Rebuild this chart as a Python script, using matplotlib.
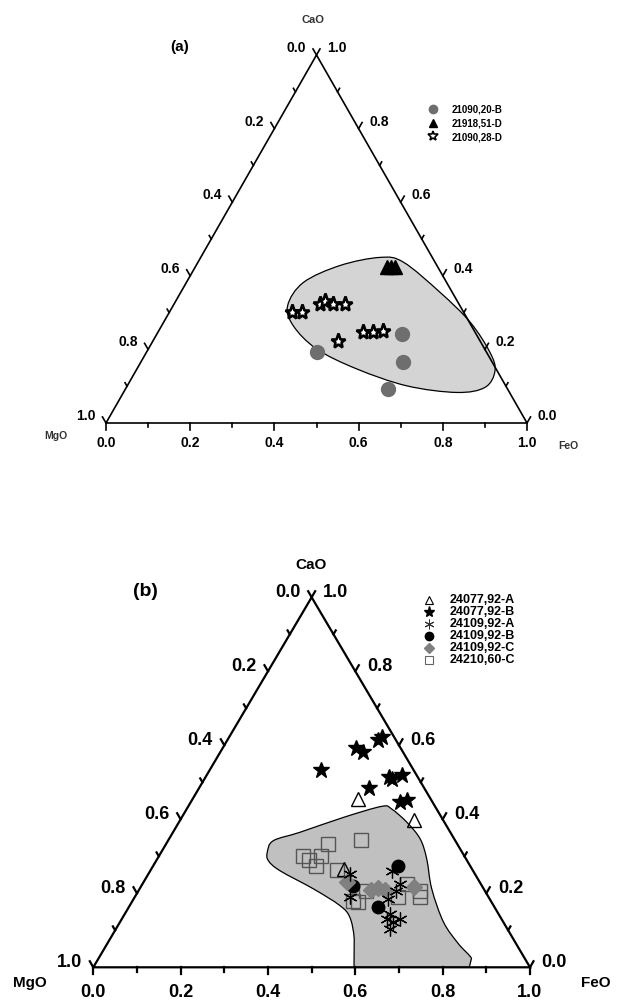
import numpy as np
import matplotlib
matplotlib.use('Agg')
import matplotlib.pyplot as plt
from matplotlib.path import Path
from matplotlib.patches import PathPatch, Polygon

plt.rcParams['font.family'] = ['Liberation Sans', 'DejaVu Sans']

# ---- panel (a) data: FeO / CaO fractions (MgO = 1 - FeO - CaO)
a_circ_feo = [0.404, 0.581, 0.624, 0.625]
a_circ_cao = [0.192, 0.242, 0.165, 0.092]
a_tri_feo = [0.455, 0.465, 0.474]
a_tri_cao = [0.424, 0.424, 0.424]
a_star_feo = [0.291, 0.314, 0.347, 0.354, 0.378, 0.406, 0.440, 0.488, 0.512, 0.533]
a_star_cao = [0.301, 0.301, 0.323, 0.332, 0.323, 0.323, 0.224, 0.246, 0.246, 0.251]
a_field_feo = [0.272, 0.278, 0.342, 0.426, 0.488, 0.616, 0.728, 0.816, 0.853,
               0.852, 0.792, 0.664, 0.522, 0.400, 0.313]
a_field_cao = [0.319, 0.382, 0.428, 0.450, 0.437, 0.355, 0.274, 0.192, 0.142,
               0.097, 0.083, 0.101, 0.147, 0.201, 0.264]
a_labels = ['21090,20-B', '21918,51-D', '21090,28-D']

# ---- panel (b) data
b_star_feo = [0.349, 0.346, 0.306, 0.325, 0.255, 0.419, 0.446, 0.429, 0.389, 0.479, 0.492]
b_star_cao = [0.622, 0.613, 0.592, 0.583, 0.532, 0.514, 0.521, 0.509, 0.485, 0.446, 0.452]
b_tri_feo = [0.378, 0.536, 0.440]
b_tri_cao = [0.455, 0.399, 0.266]
b_circ_feo = [0.562, 0.485, 0.572]
b_circ_cao = [0.273, 0.221, 0.162]
b_dia_feo = [0.465, 0.532, 0.546, 0.563, 0.626]
b_dia_cao = [0.230, 0.210, 0.214, 0.210, 0.216]
b_ast_feo = [0.553, 0.462, 0.493, 0.589, 0.590, 0.583, 0.607, 0.606, 0.637, 0.627, 0.626]
b_ast_cao = [0.261, 0.252, 0.189, 0.225, 0.207, 0.185, 0.144, 0.131, 0.131, 0.104, 0.122]
b_sq_feo = [0.330, 0.349, 0.372, 0.370, 0.371, 0.441, 0.426, 0.505, 0.519, 0.521,
            0.604, 0.605, 0.644, 0.653]
b_sq_cao = [0.302, 0.291, 0.275, 0.302, 0.332, 0.345, 0.263, 0.180, 0.176, 0.207,
            0.189, 0.225, 0.207, 0.189]
b_field_feo = [0.243, 0.241, 0.291, 0.370, 0.443, 0.469, 0.522, 0.575, 0.617, 0.669,
               0.741, 0.805, 0.854, 0.861, 0.597, 0.559, 0.520, 0.481, 0.398, 0.297, 0.257]
b_field_cao = [0.311, 0.342, 0.365, 0.405, 0.435, 0.428, 0.392, 0.347, 0.293, 0.212,
               0.122, 0.063, 0.024, 0.0, 0.0, 0.077, 0.135, 0.167, 0.212, 0.261, 0.288]
b_field_straight = [12, 13, 14]   # outline segments drawn straight (along the base)
b_labels = ['24077,92-A', '24077,92-B', '24109,92-A', '24109,92-B', '24109,92-C', '24210,60-C']

tick_vals = np.round(np.arange(0, 1.01, 0.1), 1)

FW, FH = 619, 1003
fig = plt.figure(figsize=(FW / 100, FH / 100), dpi=100, facecolor='white')


def tern(feo, cao):
    feo = np.asarray(feo, float)
    cao = np.asarray(cao, float)
    return feo + cao / 2, cao


def smooth_closed(x, y, straight=()):
    # closed Catmull-Rom outline turned into cubic bezier pieces
    pts = np.column_stack([x, y])
    n = len(pts)
    verts = [pts[0]]
    codes = [Path.MOVETO]
    for i in range(n):
        p0, p1, p2, p3 = pts[i - 1], pts[i], pts[(i + 1) % n], pts[(i + 2) % n]
        if i in straight:
            verts.append(p2)
            codes.append(Path.LINETO)
            continue
        verts += [p1 + (p2 - p0) / 6, p2 - (p3 - p1) / 6, p2]
        codes += [Path.CURVE4] * 3
    return Path(verts, codes)


def tern_axes(left, top, right, bottom):
    ax = fig.add_axes([left / FW, 1 - bottom / FH, (right - left) / FW, (bottom - top) / FH])
    ax.set_xlim(0, 1)
    ax.set_ylim(0, 1)
    ax.axis('off')
    return ax, right - left, bottom - top


def frame(ax, W, H, lw, maj, mnr, fs, gap, boff, lab_dy=0):
    ax.plot([0, 1, 0.5, 0], [0, 0, 1, 0], color='black', lw=lw, clip_on=False,
            solid_joinstyle='miter', zorder=5)
    up_l = np.array([-0.5, 0.866])
    up_r = np.array([0.5, 0.866])
    for v in tick_vals:
        major = abs(v * 10 % 2) < 1e-6
        L = maj if major else mnr
        # bottom axis (FeO)
        bx, by = tern(v, 0)
        ax.plot([bx, bx], [by, by - L / H], color='black', lw=lw, clip_on=False, zorder=5)
        # left axis (MgO): MgO = v -> CaO = 1 - v, FeO = 0
        lx, ly = tern(0, 1 - v)
        lex, ley = lx + up_l[0] * L / W, ly + up_l[1] * L / H
        ax.plot([lx, lex], [ly, ley], color='black', lw=lw, clip_on=False, zorder=5)
        # right axis (CaO)
        rx, ry = tern(1 - v, v)
        rex, rey = rx + up_r[0] * L / W, ry + up_r[1] * L / H
        ax.plot([rx, rex], [ry, rey], color='black', lw=lw, clip_on=False, zorder=5)
        if major:
            s = '%.1f' % v
            ax.text(bx, by - boff / H, s, ha='center', va='center', fontsize=fs,
                    fontweight='bold')
            ax.text(lex - gap / W, ley + lab_dy / H, s, ha='right', va='center',
                    fontsize=fs, fontweight='bold')
            ax.text(rex + gap / W, rey + lab_dy / H, s, ha='left', va='center',
                    fontsize=fs, fontweight='bold')


def ftext(x, y, s, **kw):
    fig.text(x / FW, 1 - y / FH, s, **kw)


def fmark(x, y, **kw):
    fig.add_artist(plt.Line2D([x / FW], [1 - y / FH], transform=fig.transFigure, **kw))


# ================= panel (a)
ax, W, H = tern_axes(106, 56, 527, 424)
fx, fy = tern(a_field_feo, a_field_cao)
ax.add_patch(PathPatch(smooth_closed(fx, fy), facecolor='#d4d4d4', edgecolor='black',
                       lw=0.9, zorder=1))
frame(ax, W, H, 1.2, 7, 4, 10, 7, 19, lab_dy=2)
x, y = tern(a_circ_feo, a_circ_cao)
ax.plot(x, y, 'o', ms=10, color='#6e6e6e', mec='#6e6e6e', zorder=3)
x, y = tern(a_tri_feo, a_tri_cao)
ax.plot(x, y, '^', ms=10, color='black', zorder=3)
x, y = tern(a_star_feo, a_star_cao)
ax.plot(x, y, '*', ms=11, mfc='white', mec='black', mew=1.9, zorder=3)

ftext(313, 20, 'CaO', ha='center', va='center', fontsize=8, fontweight='bold', color='#333333')
ftext(180, 47, '(a)', ha='center', va='center', fontsize=11, fontweight='bold')
ftext(56, 436, 'MgO', ha='center', va='center', fontsize=7.5, fontweight='bold', color='#333333')
ftext(568, 446, 'FeO', ha='center', va='center', fontsize=7.5, fontweight='bold', color='#333333')

a_leg_style = [dict(marker='o', ms=6, color='#6e6e6e'),
               dict(marker='^', ms=6, color='black'),
               dict(marker='*', ms=7, mfc='white', mec='black', mew=1.2)]
for i, (lab, st) in enumerate(zip(a_labels, a_leg_style)):
    yy = 110 + 13.5 * i
    fmark(433, yy, linestyle='none', **st)
    ftext(452, yy, lab, ha='left', va='center', fontsize=7, fontweight='bold')

# ================= panel (b)
ax, W, H = tern_axes(93.3, 598.3, 530, 968.3)
fx, fy = tern(b_field_feo, b_field_cao)
clip = Polygon([[0, 0], [1, 0], [0.5, 1]], closed=True, transform=ax.transData)
field = PathPatch(smooth_closed(fx, fy, b_field_straight), facecolor='#c0c0c0',
                  edgecolor='black', lw=0.9, zorder=1)
ax.add_patch(field)
field.set_clip_path(clip)
frame(ax, W, H, 1.6, 7, 4.5, 13, 8, 24)

x, y = tern(b_sq_feo, b_sq_cao)
ax.plot(x, y, 's', ms=9.5, mfc='none', mec='#555555', mew=1.0, zorder=3)
x, y = tern(b_tri_feo, b_tri_cao)
ax.plot(x, y, '^', ms=10.5, mfc='none', mec='black', mew=1.0, zorder=3)
x, y = tern(b_star_feo, b_star_cao)
ax.plot(x, y, '*', ms=12, color='black', zorder=3)
x, y = tern(b_circ_feo, b_circ_cao)
ax.plot(x, y, 'o', ms=9, color='black', zorder=3)
x, y = tern(b_dia_feo, b_dia_cao)
ax.plot(x, y, 'D', ms=8.5, color='#808080', zorder=3)
x, y = tern(b_ast_feo, b_ast_cao)
ax.plot(x, y, marker=(6, 2, 0), ms=10, linestyle='none', mec='black', mew=0.9, zorder=4)

ftext(311, 565, 'CaO', ha='center', va='center', fontsize=11, fontweight='bold')
ftext(145, 592, '(b)', ha='center', va='center', fontsize=14, fontweight='bold')
ftext(30, 983, 'MgO', ha='center', va='center', fontsize=11, fontweight='bold')
ftext(596, 983, 'FeO', ha='center', va='center', fontsize=11, fontweight='bold')

b_leg_style = [dict(marker='^', ms=6, mfc='none', mec='black', mew=0.8),
               dict(marker='*', ms=8, color='black'),
               dict(marker=(6, 2, 0), ms=7, mec='#333333', mew=0.7),
               dict(marker='o', ms=6, color='black'),
               dict(marker='D', ms=5.5, color='#808080'),
               dict(marker='s', ms=6, mfc='none', mec='#666666', mew=0.8)]
for i, (lab, st) in enumerate(zip(b_labels, b_leg_style)):
    yy = 600.5 + 12.0 * i
    fmark(429, yy, linestyle='none', **st)
    ftext(450, yy, lab, ha='left', va='center', fontsize=9, fontweight='bold')

fig.savefig('out.png', dpi=100, facecolor='white')
